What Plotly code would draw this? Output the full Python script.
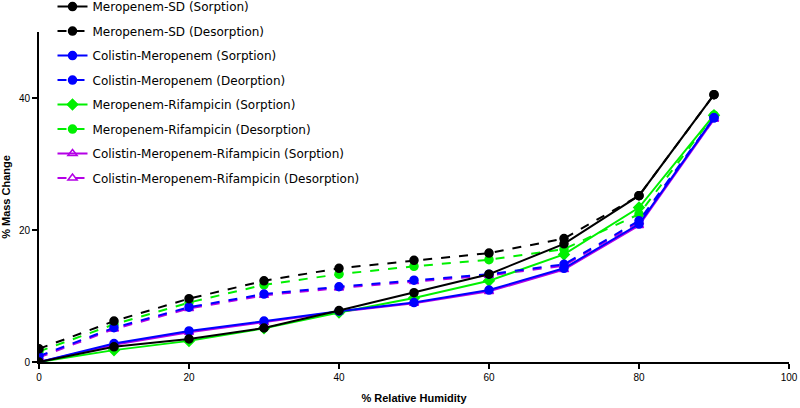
import plotly.graph_objects as go

rh = [0, 10, 20, 30, 40, 50, 60, 70, 80, 90]

mero_sorp = [0, 2.3, 3.5, 5.15, 7.8, 10.5, 13.3, 17.9, 25.2, 40.5]
mero_desorp = [2.0, 6.2, 9.6, 12.3, 14.2, 15.4, 16.5, 18.7, 25.2, 40.5]
colmero_sorp = [0, 2.8, 4.7, 6.2, 7.7, 9.0, 10.9, 14.2, 20.9, 37.0]
colmero_desorp = [0.9, 5.2, 8.3, 10.3, 11.4, 12.4, 13.3, 14.8, 21.4, 37.0]
merorif_sorp = [0, 1.8, 3.2, 5.1, 7.5, 9.7, 12.3, 16.3, 23.4, 37.4]
merorif_desorp = [1.6, 5.7, 9.0, 11.7, 13.3, 14.5, 15.5, 17.1, 22.4, 37.4]
colmerorif_sorp = [0, 2.6, 4.5, 6.0, 7.6, 8.9, 10.7, 14.0, 20.7, 36.8]
colmerorif_desorp = [0.7, 5.0, 8.1, 10.1, 11.2, 12.2, 13.1, 14.6, 21.2, 36.8]

BLACK = "#000000"
BLUE = "#0000FF"
GREEN = "#00F000"
PURPLE = "#B400E6"

series = [
    ("Meropenem-SD (Sorption)", mero_sorp, BLACK, "solid", "circle"),
    ("Meropenem-SD (Desorption)", mero_desorp, BLACK, "dash", "circle"),
    ("Colistin-Meropenem (Sorption)", colmero_sorp, BLUE, "solid", "circle"),
    ("Colistin-Meropenem (Deorption)", colmero_desorp, BLUE, "dash", "circle"),
    ("Meropenem-Rifampicin (Sorption)", merorif_sorp, GREEN, "solid", "diamond"),
    ("Meropenem-Rifampicin (Desorption)", merorif_desorp, GREEN, "dash", "circle"),
    ("Colistin-Meropenem-Rifampicin (Sorption)", colmerorif_sorp, PURPLE, "solid", "triangle-up-open"),
    ("Colistin-Meropenem-Rifampicin (Desorption)", colmerorif_desorp, PURPLE, "dash", "triangle-up-open"),
]

fig = go.Figure()
# draw purple first, then green, blue, black on top
order = [6, 7, 4, 5, 2, 3, 0, 1]
for i in order:
    name, ys, col, dash, sym = series[i]
    fig.add_trace(go.Scatter(
        x=rh, y=ys, name=name, mode="lines+markers",
        line=dict(color=col, width=2, dash=dash),
        marker=dict(color=col, size=8, symbol=sym,
                    line=dict(color=col, width=1.5)),
        legendrank=i + 1, legendgroup=str(i),
    ))

fig.update_layout(
    width=800, height=408,
    margin=dict(l=39, r=11, t=32, b=46, autoexpand=False),
    plot_bgcolor="white", paper_bgcolor="white",
    font=dict(family="Arial, Liberation Sans", color="black"),
    showlegend=True,
    legend=dict(x=0.018, y=1.121, xanchor="left", yanchor="top",
                font=dict(size=12, family="DejaVu Sans"),
                itemwidth=30,
                tracegroupgap=5.5, bgcolor="rgba(0,0,0,0)"),
    xaxis=dict(range=[0, 100], tickvals=[0, 20, 40, 60, 80, 100],
               showgrid=False, zeroline=False, showline=True, linecolor="black",
               linewidth=2, ticks="outside", ticklen=5, tickwidth=2, tickcolor="black",
               tickfont=dict(size=10, family="Arial Black, Arial, Liberation Sans"),
               title=dict(text="<b>% Relative Humidity</b>", font=dict(size=11), standoff=12)),
    yaxis=dict(range=[0, 50], tickvals=[0, 20, 40],
               showgrid=False, zeroline=False, showline=True, linecolor="black",
               linewidth=2, ticks="outside", ticklen=5, tickwidth=2, tickcolor="black",
               tickfont=dict(size=10, family="Arial Black, Arial, Liberation Sans"),
               title=dict(text="<b>% Mass Change</b>", font=dict(size=11), standoff=8)),
)

fig.write_html("out.html", config={"displayModeBar": False},
               post_script="document.body.style.margin='0px';")
